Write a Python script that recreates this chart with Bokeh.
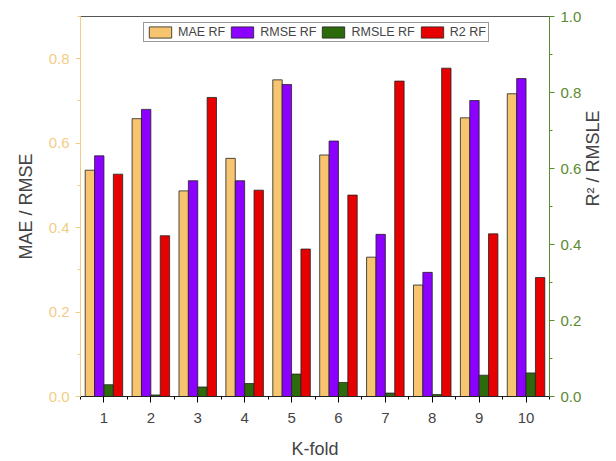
import math
from bokeh.plotting import figure
from bokeh.models import (ColumnDataSource, Range1d, LinearAxis, SingleIntervalTicker,
                          FixedTicker, Legend, Label, PrintfTickFormatter)
from bokeh.transform import dodge
from bokeh.embed import file_html
from bokeh.resources import INLINE

kfold = [1, 2, 3, 4, 5, 6, 7, 8, 9, 10]
mae_rf = [0.536, 0.658, 0.487, 0.564, 0.750, 0.572, 0.330, 0.264, 0.660, 0.717]
rmse_rf = [0.570, 0.680, 0.511, 0.511, 0.739, 0.605, 0.384, 0.294, 0.701, 0.753]
rmsle_rf = [0.031, 0.004, 0.025, 0.034, 0.059, 0.037, 0.009, 0.005, 0.056, 0.062]
r2_rf = [0.585, 0.423, 0.787, 0.543, 0.388, 0.530, 0.830, 0.864, 0.428, 0.313]
series_names = ["MAE RF", "RMSE RF", "RMSLE RF", "R2 RF"]
x_ticks = kfold

src = ColumnDataSource(dict(k=kfold, mae=mae_rf, rmse=rmse_rf, rmsle=rmsle_rf, r2=r2_rf))

FONT = "Liberation Sans"
ORANGE_AX = "#f3cd85"
GREEN_AX = "#5b8a2f"

p = figure(width=616, height=461, output_backend="svg", toolbar_location=None,
           x_range=Range1d(0.5, 10.5), y_range=Range1d(0, 0.9),
           min_border_left=80, min_border_right=61, min_border_top=16, min_border_bottom=62)
p.extra_y_ranges = {"r": Range1d(0, 1.0)}
p.xgrid.visible = False
p.ygrid.visible = False
p.outline_line_color = "#555555"
p.outline_line_width = 1

w = 0.2
r1 = p.vbar(x=dodge("k", -0.3), top="mae", width=w, source=src,
            fill_color="#f7c46f", line_color="#222222", line_width=0.8)
r2 = p.vbar(x=dodge("k", -0.1), top="rmse", width=w, source=src,
            fill_color="#8c00ff", line_color="#222222", line_width=0.8)
r3 = p.vbar(x=dodge("k", 0.1), top="rmsle", width=w, source=src, y_range_name="r",
            fill_color="#2d6a0c", line_color="#222222", line_width=0.8)
r4 = p.vbar(x=dodge("k", 0.3), top="r2", width=w, source=src, y_range_name="r",
            fill_color="#e60000", line_color="#222222", line_width=0.8)

# bottom axis
xa = p.xaxis[0]
xa.ticker = FixedTicker(ticks=x_ticks, minor_ticks=[k + 0.5 for k in [0] + x_ticks])
xa.axis_label = "K-fold"
xa.axis_label_text_font = FONT
xa.axis_label_text_font_style = "normal"
xa.axis_label_text_font_size = "18px"
xa.axis_label_standoff = 13
xa.major_label_text_font = FONT
xa.major_label_text_font_size = "15px"
xa.major_label_standoff = 10
xa.axis_line_color = "#222222"
xa.major_tick_in = 0
xa.major_tick_out = 6
xa.minor_tick_in = 0
xa.minor_tick_out = 3

# left axis
ya = p.yaxis[0]
ya.ticker = SingleIntervalTicker(interval=0.2, num_minor_ticks=2)
ya.formatter = PrintfTickFormatter(format="%.1f")
ya.axis_label = "MAE / RMSE"
ya.axis_label_text_font = FONT
ya.axis_label_text_font_style = "normal"
ya.axis_label_text_font_size = "18px"
ya.axis_label_standoff = 10
ya.major_label_text_font = FONT
ya.major_label_text_font_size = "15px"
ya.major_label_text_color = ORANGE_AX
ya.major_label_standoff = 6
ya.axis_line_color = ORANGE_AX
ya.major_tick_line_color = ORANGE_AX
ya.minor_tick_line_color = ORANGE_AX
ya.major_tick_in = 0
ya.major_tick_out = 5
ya.minor_tick_in = 0
ya.minor_tick_out = 3

# right axis
ra = LinearAxis(y_range_name="r", ticker=SingleIntervalTicker(interval=0.2, num_minor_ticks=2))
ra.formatter = PrintfTickFormatter(format="%.1f")
ra.major_label_text_font = FONT
ra.major_label_text_font_size = "15px"
ra.major_label_text_color = GREEN_AX
ra.major_label_standoff = 6
ra.axis_line_color = GREEN_AX
ra.major_tick_line_color = GREEN_AX
ra.minor_tick_line_color = GREEN_AX
ra.major_tick_in = 0
ra.major_tick_out = 5
ra.minor_tick_in = 0
ra.minor_tick_out = 3
right_label_text = "R\u00b2 / RMSLE"
if "axis_label_orientation" in ra.properties():
    ra.axis_label = right_label_text
    ra.axis_label_text_font = FONT
    ra.axis_label_text_font_style = "normal"
    ra.axis_label_text_font_size = "18px"
    ra.axis_label_standoff = 9
    ra.axis_label_orientation = math.pi / 2
else:
    p.add_layout(Label(x=10.5, y=0.5, y_range_name="r", x_offset=50, text=right_label_text,
                       angle=math.pi / 2, text_align="center", text_baseline="middle",
                       text_font=FONT, text_font_size="18px", text_color="#111111"))
p.add_layout(ra, "right")

legend = Legend(items=[(series_names[0], [r1]), (series_names[1], [r2]),
                       (series_names[2], [r3]), (series_names[3], [r4])],
                orientation="horizontal", location=(63, 354),
                label_text_font=FONT, label_text_font_size="12.5px",
                glyph_width=28, glyph_height=14, label_standoff=4, spacing=3,
                padding=2, margin=0, border_line_color="#333333", border_line_width=1,
                label_height=14, background_fill_alpha=1.0)
p.add_layout(legend, "center")

open("out.html", "w").write(file_html(p, INLINE))
